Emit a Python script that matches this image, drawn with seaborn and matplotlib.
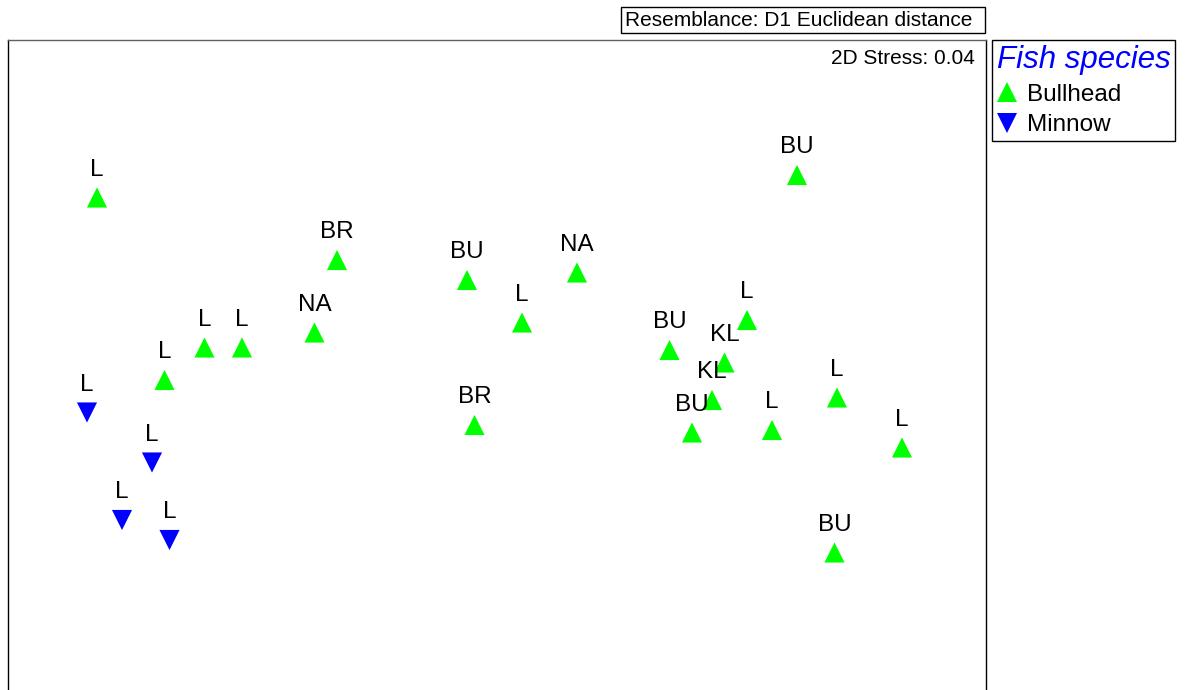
import matplotlib.pyplot as plt
import matplotlib.patches as mpatches
import seaborn as sns
import pandas as pd

# nMDS coordinates
bull_x = [-1.60, -0.64, -0.12, 0.32, 0.10, -0.73, -1.17, -1.02, -1.33, -0.09,
          1.20, 1.00, 0.69, 0.91, 0.86, 0.78, 1.10, 1.36, 1.62, 1.35]
bull_y = [0.81, 0.56, 0.48, 0.51, 0.31, 0.27, 0.21, 0.21, 0.08, -0.10,
          0.90, 0.32, 0.20, 0.15, 0.00, -0.13, -0.12, 0.01, -0.19, -0.61]
bull_lab = ["L", "BR", "BU", "NA", "L", "NA", "L", "L", "L", "BR",
            "BU", "L", "BU", "KL", "KL", "BU", "L", "L", "L", "BU"]

min_x = [-1.64, -1.38, -1.50, -1.31]
min_y = [-0.05, -0.25, -0.48, -0.56]
min_lab = ["L", "L", "L", "L"]

species = ["Bullhead", "Minnow"]
colores = {"Bullhead": "#00FF00", "Minnow": "#0000FF"}
marcadores = {"Bullhead": "^", "Minnow": "v"}

df = pd.DataFrame({
    "x": bull_x + min_x,
    "y": bull_y + min_y,
    "site": bull_lab + min_lab,
    "species": ["Bullhead"] * len(bull_x) + ["Minnow"] * len(min_x),
})

sns.set_style("white")
plt.rcParams["font.family"] = ["Liberation Sans", "DejaVu Sans"]
plt.rcParams["text.color"] = "black"

W, H = 1186, 690
fig = plt.figure(figsize=(W / 100, H / 100), dpi=100)
# el marco sigue por debajo del borde inferior
ax = fig.add_axes([8 / W, 1 - 720 / H, 978 / W, 680 / H])

sns.scatterplot(data=df, x="x", y="y", hue="species", style="species",
                palette=colores, markers=marcadores, hue_order=species,
                s=210, edgecolor="none", ax=ax)

# etiquetas de cada muestra encima del marcador
for _, r in df.iterrows():
    ax.annotate(r["site"], (r["x"], r["y"]), xytext=(0, 15.5), textcoords="offset points",
                ha="center", va="baseline", fontsize=17.5, color="black")

ax.set_xlim(-1.956, 1.956)
ax.set_ylim(-1.28, 1.44)
ax.set_xticks([])
ax.set_yticks([])
ax.set_xlabel("")
ax.set_ylabel("")
for s in ax.spines.values():
    s.set_color("black")
    s.set_linewidth(1.0)
ax.spines["top"].set_color("#606060")

ax.text((975 - 8) / 978, 1 - 19 / 680, "2D Stress: 0.04", transform=ax.transAxes,
        ha="right", va="center", fontsize=15)

# leyenda
handles, labels = ax.get_legend_handles_labels()
if ax.legend_:
    ax.legend_.remove()
leg = fig.legend(handles, labels, loc="upper left", bbox_to_anchor=(992 / W, 1 - 40 / H),
                 bbox_transform=fig.transFigure, borderaxespad=0, fancybox=False,
                 edgecolor="black", framealpha=1, fontsize=17.5, markerscale=1.0,
                 handlelength=0.8, handletextpad=0.45, labelspacing=0.36, borderpad=0.2,
                 title="Fish species", alignment="left",
                 title_fontproperties={"size": 22.5, "style": "italic"})
leg.get_title().set_color("#0000FF")
for t in leg.get_texts():
    t.set_color("black")
leg.get_frame().set_linewidth(1.0)

# caja de "Resemblance"
fig.patches.append(mpatches.Rectangle((621 / W, 1 - 33 / H), 364 / W, 26 / H,
                                      transform=fig.transFigure, fill=False,
                                      edgecolor="black", linewidth=1.0))
fig.text(625 / W, 1 - 20 / H, "Resemblance: D1 Euclidean distance",
         ha="left", va="center", fontsize=15)

fig.savefig("out.png", dpi=100)
